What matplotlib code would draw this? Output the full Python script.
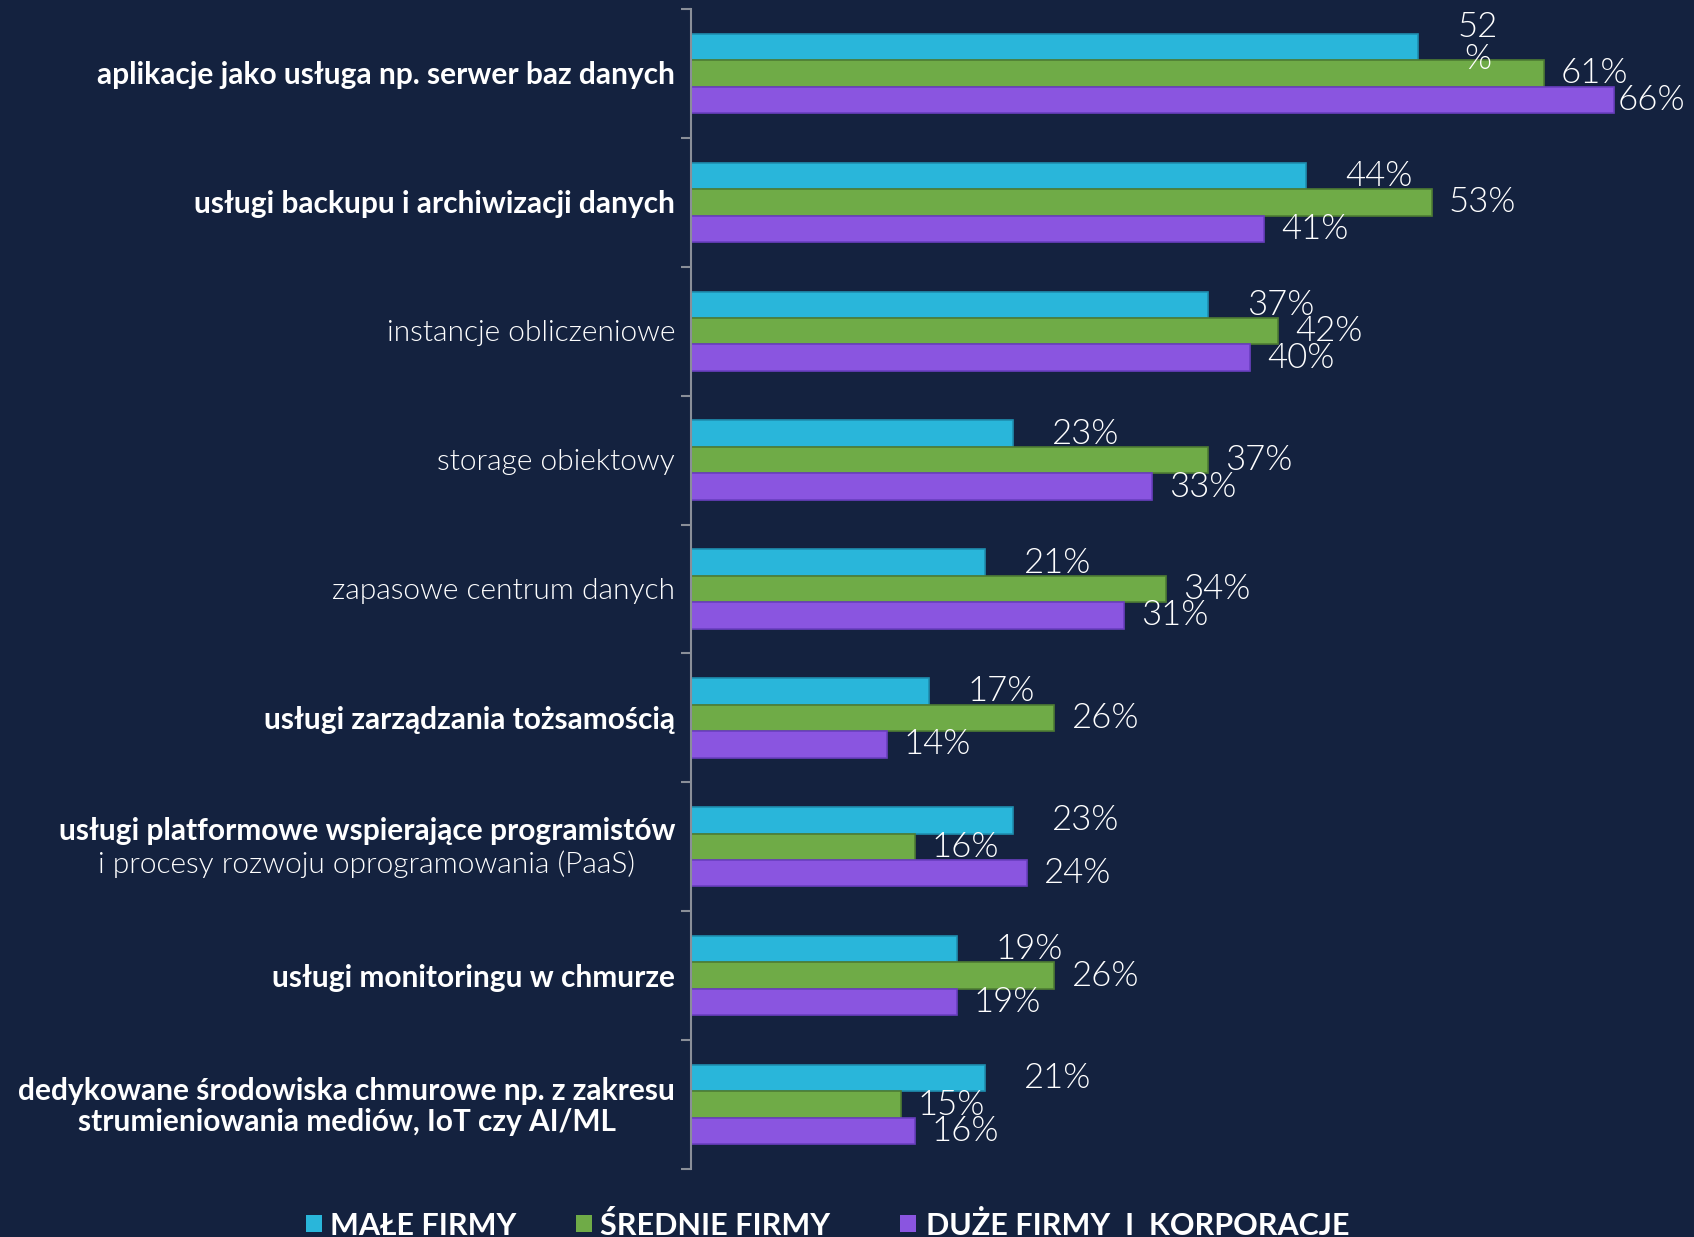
import matplotlib
matplotlib.use("Agg")
import matplotlib.pyplot as plt
from matplotlib.patches import Rectangle
import numpy as np

categories = [
    "aplikacje jako usługa np. serwer baz danych",
    "usługi backupu i archiwizacji danych",
    "instancje obliczeniowe",
    "storage obiektowy",
    "zapasowe centrum danych",
    "usługi zarządzania tożsamością",
    "usługi platformowe wspierające programistów\ni procesy rozwoju oprogramowania (PaaS)",
    "usługi monitoringu w chmurze",
    "dedykowane środowiska chmurowe np. z zakresu\nstrumieniowania mediów, IoT czy AI/ML",
]
label_styles = ["bold", "bold", "light", "light", "light", "bold", "mixed", "bold", "bold"]

series_names = ["MAŁE FIRMY", "ŚREDNIE FIRMY", "DUŻE FIRMY  I  KORPORACJE"]
male = [52, 44, 37, 23, 21, 17, 23, 19, 21]
srednie = [61, 53, 42, 37, 34, 26, 16, 26, 15]
duze = [66, 41, 40, 33, 31, 14, 24, 19, 16]

colors = ["#29B6DA", "#6FAB47", "#8A55E0"]
edge_colors = ["#1f8fb0", "#4e7d33", "#6a3fc0"]
BG = "#14223F"
FONT = "Lato"
LIGHT = 300

W, H = 1694, 1237
fig = plt.figure(figsize=(W / 100, H / 100), dpi=100, facecolor=BG)
ax_left, ax_right, ax_top, ax_bottom = 691, 1694, 9, 1169
ax = fig.add_axes([ax_left / W, 1 - ax_bottom / H, (ax_right - ax_left) / W, (ax_bottom - ax_top) / H])
ax.set_facecolor(BG)

px_per_pct = 13.98
ax.set_xlim(0, (ax_right - ax_left) / px_per_pct)
n = len(categories)
ax.set_ylim(n - 0.5, -0.5)

y = np.arange(n)
bh = 0.205
offsets = [-bh, 0, bh]
all_series = [male, srednie, duze]
label_px = [39, 17, 17]
for si, (vals, c, ec, off) in enumerate(zip(all_series, colors, edge_colors, offsets)):
    ax.barh(y + off, vals, height=bh, color=c, edgecolor=ec, linewidth=1.2)
    for yi, v in zip(y, vals):
        txt = f"{v}%"
        dx = label_px[si]
        dy = 0
        if si == 0 and v == 52:
            txt = "52\n%"
            dx = 40
            dy = 4
        if si == 2 and v == 66:
            dx = 4
        ax.annotate(txt, xy=(v, yi + off), xytext=(dx, dy), textcoords="offset pixels",
                    ha="left", va="center", multialignment="center", color="white",
                    fontsize=25, family=FONT, fontweight=LIGHT, linespacing=1.0,
                    annotation_clip=False)

# spines / ticks
for s in ["top", "right", "bottom"]:
    ax.spines[s].set_visible(False)
ax.spines["left"].set_color("#8a8f99")
ax.spines["left"].set_linewidth(1.5)
ax.set_xticks([])
ax.set_yticks(np.arange(-0.5, n, 1.0))
ax.set_yticklabels([])
ax.tick_params(axis="y", direction="out", length=7, width=1.5, color="#8a8f99")

# category labels
lab_fs = 21.5
trans = ax.get_yaxis_transform()
fig.canvas.draw()
renderer = fig.canvas.get_renderer()
for yi, (cat, st) in enumerate(zip(categories, label_styles)):
    if st == "mixed":
        l1, l2 = cat.split("\n")
        t1 = ax.annotate(l1, xy=(0, yi), xycoords=trans, xytext=(-16, 16), textcoords="offset pixels",
                         ha="right", va="center", color="white", fontsize=lab_fs, family=FONT,
                         fontweight="bold", annotation_clip=False)
        fig.canvas.draw()
        bb = t1.get_window_extent(renderer)
        spine_x = ax.transData.transform((0, 0))[0]
        cx = (bb.x0 + bb.x1) / 2 - spine_x
        ax.annotate(l2, xy=(0, yi), xycoords=trans, xytext=(cx, -17), textcoords="offset pixels",
                    ha="center", va="center", color="white", fontsize=lab_fs, family=FONT,
                    fontweight=LIGHT, annotation_clip=False)
    else:
        ax.annotate(cat, xy=(0, yi), xycoords=trans, xytext=(-16, -2), textcoords="offset pixels",
                    ha="right", va="center", multialignment="center", color="white",
                    fontsize=lab_fs, family=FONT, fontweight=(LIGHT if st == "light" else "bold"),
                    linespacing=1.1, annotation_clip=False)

# legend (manual)
sq_x = [306, 576, 900]
txt_x = [330, 600, 926]
for name, c, sx, tx in zip(series_names, colors, sq_x, txt_x):
    fig.patches.append(Rectangle((sx / W, 1 - 1232 / H), 16 / W, 17 / H, transform=fig.transFigure,
                                 facecolor=c, edgecolor="none"))
    fig.text(tx / W, 1 - 1235 / H, name, ha="left", va="baseline", color="white",
             fontsize=22, family=FONT, fontweight="bold")

fig.savefig("out.png", dpi=100, facecolor=BG)
